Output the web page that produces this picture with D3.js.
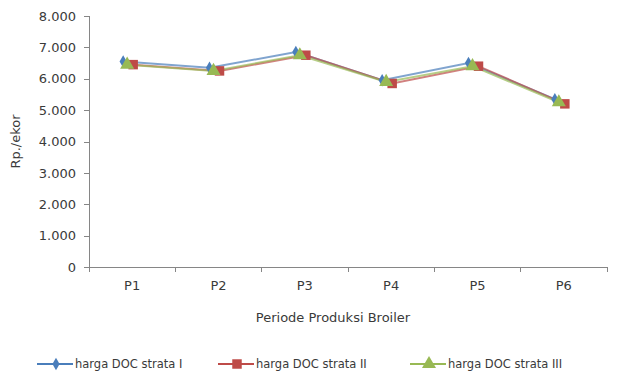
<!DOCTYPE html>
<html>
<head>
<meta charset="utf-8">
<script src="https://d3js.org/d3.v7.min.js"></script>
<style>
  body { margin: 0; background: #fff; }
  svg { display: block; }
  text { font-family: "DejaVu Sans", Verdana, sans-serif; fill: #3a3a3a; }
  .axis path, .axis line { stroke: #868686; shape-rendering: crispEdges; }
  .axis text { font-size: 13px; fill: #3a3a3a; }
  .label { font-size: 13px; }
  .legend text { font-size: 11.5px; }
</style>
</head>
<body>
<svg width="617" height="376"></svg>
<script>
const periods = ['P1', 'P2', 'P3', 'P4', 'P5', 'P6'];
const strata1 = [6550, 6350, 6850, 5950, 6500, 5350];
const strata2 = [6450, 6250, 6750, 5850, 6400, 5200];
const strata3 = [6450, 6250, 6750, 5900, 6400, 5250];
const yTicks = [0, 1000, 2000, 3000, 4000, 5000, 6000, 7000, 8000];
const seriesNames = ['harga DOC strata I', 'harga DOC strata II', 'harga DOC strata III'];

const svg = d3.select('svg');

const plotLeft = 89, plotRight = 607, plotTop = 16, plotBottom = 267;

const x = d3.scaleBand().domain(periods).range([plotLeft, plotRight]);
const y = d3.scaleLinear().domain([0, 8000]).range([plotBottom, plotTop]);

const fmt = d => d3.format(',')(d).replace(/,/g, '.');

// axes
svg.append('g')
  .attr('class', 'axis')
  .attr('transform', `translate(${plotLeft},0)`)
  .call(d3.axisLeft(y).tickValues(yTicks).tickSize(5).tickPadding(8).tickFormat(fmt))
  .call(g => g.select('.domain').attr('d', `M-5,${plotTop}H0V${plotBottom}`));

svg.append('g')
  .attr('class', 'axis')
  .attr('transform', `translate(0,${plotBottom})`)
  .call(d3.axisBottom(x).tickSize(0).tickPadding(14))
  .call(g => g.select('.domain').attr('d', `M${plotLeft},5V0H${plotRight}V5`));

// category boundary ticks
svg.append('g')
  .attr('class', 'axis')
  .selectAll('line')
  .data(periods)
  .join('line')
  .attr('x1', d => x(d)).attr('x2', d => x(d))
  .attr('y1', plotBottom).attr('y2', plotBottom + 5);

const series = [
  { name: seriesNames[0], values: strata1, color: '#4a7ebb', shape: d3.symbolDiamond, size: 45, dx: -9 },
  { name: seriesNames[1], values: strata2, color: '#be4b48', shape: d3.symbolSquare, size: 90, dx: 1 },
  { name: seriesNames[2], values: strata3, color: '#98b954', shape: d3.symbolTriangle, size: 85, dx: -5 }
];

const px = (s, i) => x(periods[i]) + x.bandwidth() / 2 + s.dx;

const line = s => d3.line()
  .x((d, i) => px(s, i))
  .y(d => y(d));

series.forEach(s => {
  svg.append('path')
    .datum(s.values)
    .attr('fill', 'none')
    .attr('stroke', s.color)
    .attr('stroke-width', 2)
    .attr('stroke-opacity', 0.7)
    .attr('d', line(s));
});

series.forEach(s => {
  svg.append('g')
    .selectAll('path')
    .data(s.values)
    .join('path')
    .attr('transform', (d, i) => `translate(${px(s, i)},${y(d)})`)
    .attr('d', d3.symbol().type(s.shape).size(s.size))
    .attr('fill', s.color);
});

// axis titles
svg.append('text')
  .attr('class', 'label')
  .attr('transform', `translate(20,${(plotTop + plotBottom) / 2}) rotate(-90)`)
  .attr('text-anchor', 'middle')
  .text('Rp./ekor');

svg.append('text')
  .attr('class', 'label')
  .attr('x', 333)
  .attr('y', 322)
  .attr('text-anchor', 'middle')
  .text('Periode Produksi Broiler');

// legend
const legendX = [37, 218, 410];
const legend = svg.append('g').attr('class', 'legend');
series.forEach((s, i) => {
  const g = legend.append('g').attr('transform', `translate(${legendX[i]},364)`);
  g.append('line').attr('x1', 0).attr('x2', 36).attr('stroke', s.color).attr('stroke-width', 2);
  g.append('path')
    .attr('transform', 'translate(19,0)')
    .attr('d', d3.symbol().type(s.shape).size(s.size))
    .attr('fill', s.color);
  g.append('text').attr('x', 38).attr('y', 4).text(s.name);
});
</script>
</body>
</html>
